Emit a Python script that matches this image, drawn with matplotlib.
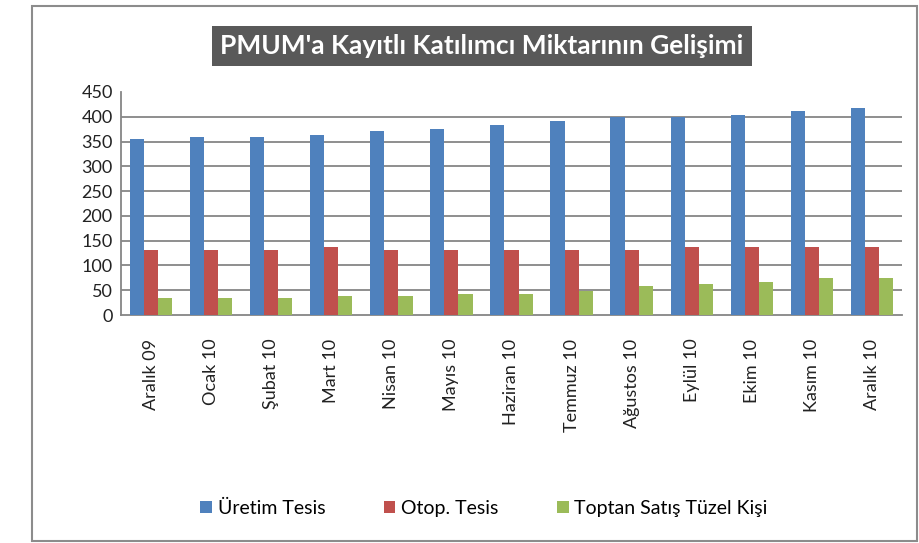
import numpy as np
import matplotlib
matplotlib.use('Agg')
import matplotlib.pyplot as plt
from matplotlib.patches import Rectangle

plt.rcParams['font.family'] = ['Lato', 'DejaVu Sans']

months = ['Aralık 09', 'Ocak 10', 'Şubat 10', 'Mart 10', 'Nisan 10', 'Mayıs 10',
          'Haziran 10', 'Temmuz 10', 'Ağustos 10', 'Eylül 10', 'Ekim 10',
          'Kasım 10', 'Aralık 10']
uretim = [355, 360, 360, 364, 372, 376, 384, 392, 399, 399, 404, 412, 417]
otop = [132, 132, 132, 137, 132, 132, 132, 132, 132, 137, 137, 137, 137]
toptan = [35, 35, 35, 39, 39, 42, 42, 49, 58, 63, 67, 75, 75]
series_names = ['Üretim Tesis', 'Otop. Tesis', 'Toptan Satış Tüzel Kişi']
colors = ['#4F81BD', '#C0504D', '#9BBB59']

fig = plt.figure(figsize=(9.19, 5.43), dpi=100)
ax = fig.add_axes([121 / 919, 1 - 315 / 543, 781 / 919, 223 / 543])

x = np.arange(len(months))
w = 0.235
for i, (vals, name, c) in enumerate(zip([uretim, otop, toptan], series_names, colors)):
    ax.bar(x + (i - 1) * w, vals, w, color=c, label=name, zorder=3)

ax.set_xlim(-0.5, len(months) - 0.5)
ax.set_ylim(0, 450)
ax.set_yticks(range(0, 451, 50))
for v in range(50, 450, 50):
    ax.axhline(v, color='#868686', lw=1.3, zorder=1)

ax.set_xticks(x)
ax.set_xticklabels(months, rotation=90, fontsize=13, color='#222222')
ax.tick_params(axis='x', length=0, pad=17)
ax.tick_params(axis='y', length=0, labelsize=13, labelcolor='#222222', pad=6)
for s in ['top', 'right']:
    ax.spines[s].set_visible(False)
for s in ['left', 'bottom']:
    ax.spines[s].set_color('#868686')
    ax.spines[s].set_linewidth(1.3)

fig.text(482 / 919, 1 - 46 / 543, "PMUM'a Kayıtlı Katılımcı Miktarının Gelişimi",
         ha='center', va='center', color='white', fontsize=19, fontweight='bold',
         bbox=dict(boxstyle='square,pad=0.3', fc='#595959', ec='none'))

fig.legend(loc='center', bbox_to_anchor=(484 / 919, 1 - 508 / 543), ncol=3,
           frameon=False, fontsize=14, handlelength=0.6, handleheight=0.6,
           handletextpad=0.3, columnspacing=3.0)

fig.patches.append(Rectangle((32 / 919, 1 - 541 / 543), 885 / 919, 535 / 543,
                             transform=fig.transFigure, fill=False,
                             ec='#8c8c8c', lw=1.5))

fig.savefig('out.png', dpi=100)
